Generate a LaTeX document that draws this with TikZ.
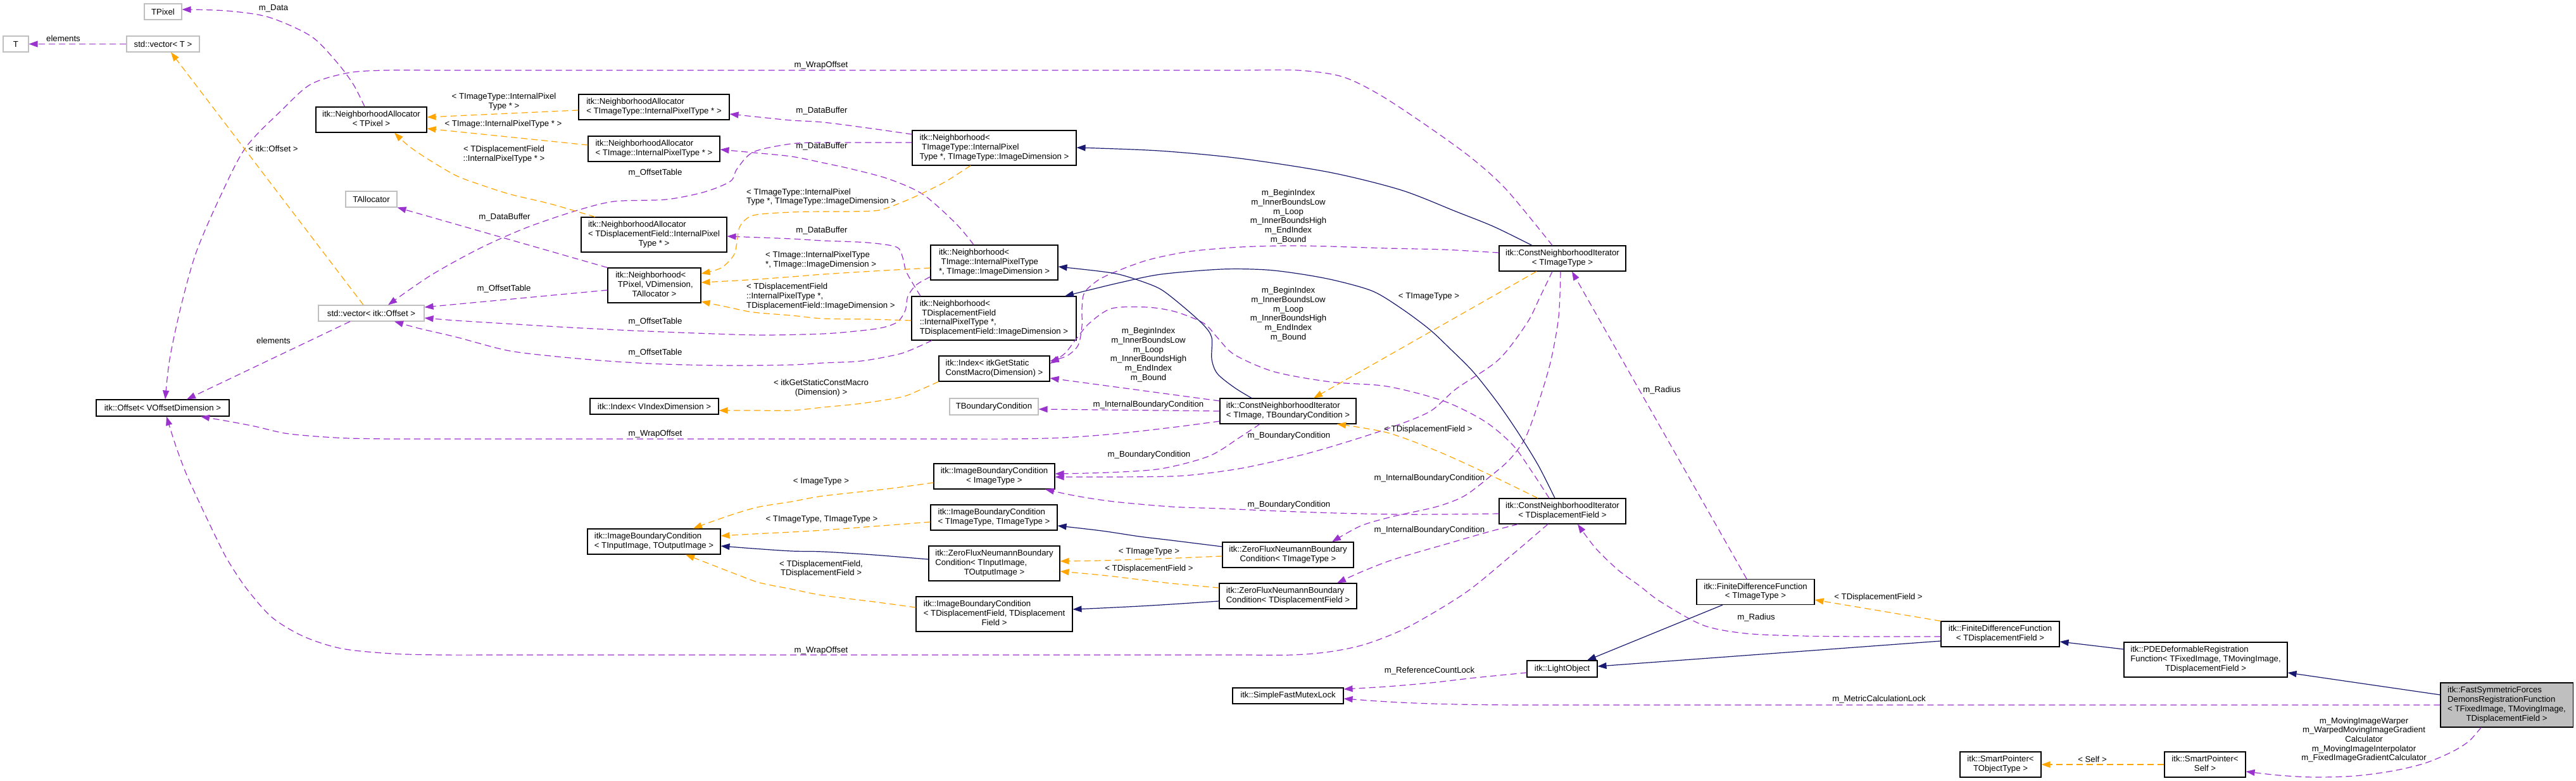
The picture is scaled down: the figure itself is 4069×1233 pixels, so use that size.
\documentclass[tikz,border=0pt]{standalone}
\usepackage{fontspec}
\setmainfont{Liberation Sans}
\usetikzlibrary{arrows.meta}
\definecolor{usec}{HTML}{9A32CD}
\definecolor{tmplc}{HTML}{FFA500}
\definecolor{inhc}{HTML}{191970}
\definecolor{grayb}{HTML}{BFBFBF}
\newcommand\dgfont{\fontsize{13.2}{14.7}\selectfont}
\newcommand\dgml[2]{\begin{tabular}{@{}l@{}}#1\\\multicolumn{1}{@{}c@{}}{#2}\end{tabular}}
\newcommand\dgbidx{m\_BeginIndex\\m\_InnerBoundsLow\\m\_Loop\\m\_InnerBoundsHigh\\m\_EndIndex\\m\_Bound}
\tikzset{
  dgbox/.style={rectangle, draw=black, line width=1.1pt, fill=white, inner sep=0pt, font=\dgfont},
  dggbox/.style={dgbox, draw=grayb},
  dglab/.style={inner sep=0pt, font=\dgfont, align=center},
  dgtip/.style={-{Triangle[length=14pt,width=10pt]}},
  dgusage/.style={draw=usec, line width=1.2pt, dash pattern=on 10pt off 6pt, dgtip},
  dgtmpl/.style={draw=tmplc, line width=1.2pt, dash pattern=on 10pt off 6pt, dgtip},
  dginh/.style={draw=inhc, line width=1.2pt, dgtip},
}
\begin{document}
\begin{tikzpicture}[x=1pt,y=-1pt]
\useasboundingbox (0,0) rectangle (4069,1233);
\fill[white] (0,0) rectangle (4069,1233);

% ---------------- nodes
\node[dggbox, minimum width=59, minimum height=25] (TPixel) at (257.5,18.5) {TPixel};
\node[dggbox, minimum width=40, minimum height=25] (T) at (25,69.5) {T};
\node[dggbox, minimum width=115, minimum height=25] (vecT) at (257.5,69.5) {std::vector< T >};
\node[dgbox, minimum width=175, minimum height=40] (NATPixel) at (586.5,189) {\dgml{itk::NeighborhoodAllocator}{< TPixel >}};
\node[dggbox, minimum width=81, minimum height=25] (TAllocator) at (586.5,314.5) {TAllocator};
\node[dggbox, minimum width=167, minimum height=25] (vecOffset) at (586.5,494.5) {std::vector< itk::Offset >};
\node[dgbox, minimum width=210, minimum height=26] (Offset) at (257,644) {itk::Offset< VOffsetDimension >};
\node[dgbox, minimum width=238, minimum height=40] (NATImageType) at (1033,169) {\dgml{itk::NeighborhoodAllocator}{< TImageType::InternalPixelType * >}};
\node[dgbox, minimum width=208, minimum height=40] (NATImage) at (1033,235) {\dgml{itk::NeighborhoodAllocator}{< TImage::InternalPixelType * >}};
\node[dgbox, minimum width=230, minimum height=55] (NATDF) at (1033,370.5) {\dgml{itk::NeighborhoodAllocator\\< TDisplacementField::InternalPixel}{Type * >}};
\node[dgbox, minimum width=147, minimum height=55] (NbhTPixel) at (1033.5,450.5) {\dgml{itk::Neighborhood<\\\ TPixel, VDimension,}{TAllocator >}};
\node[dgbox, minimum width=203, minimum height=25] (IndexV) at (1033.5,641.5) {itk::Index< VIndexDimension >};
\node[dgbox, minimum width=210, minimum height=40] (IBCTIn) at (1033,855) {\dgml{itk::ImageBoundaryCondition}{< TInputImage, TOutputImage >}};
\node[dgbox, minimum width=259, minimum height=55] (NbhTImageType) at (1570.5,233.5) {\dgml{itk::Neighborhood<\\\ TImageType::InternalPixel}{Type *, TImageType::ImageDimension >}};
\node[dgbox, minimum width=201, minimum height=55] (NbhTImage) at (1570.5,414.5) {\dgml{itk::Neighborhood<\\\ TImage::InternalPixelType}{*, TImage::ImageDimension >}};
\node[dgbox, minimum width=260, minimum height=69] (NbhTDF) at (1570,502.5) {\dgml{itk::Neighborhood<\\\ TDisplacementField\\::InternalPixelType *,}{TDisplacementField::ImageDimension >}};
\node[dgbox, minimum width=175, minimum height=40] (IndexStatic) at (1570.5,582) {\dgml{itk::Index< itkGetStatic}{ConstMacro(Dimension) >}};
\node[dggbox, minimum width=140, minimum height=26] (TBC) at (1570,642) {TBoundaryCondition};
\node[dgbox, minimum width=191, minimum height=40] (IBCImageType) at (1570.5,752) {\dgml{itk::ImageBoundaryCondition}{< ImageType >}};
\node[dgbox, minimum width=200, minimum height=40] (IBCTImageType) at (1570,817) {\dgml{itk::ImageBoundaryCondition}{< TImageType, TImageType >}};
\node[dgbox, minimum width=207, minimum height=55] (ZFTIn) at (1570.5,889.5) {\dgml{itk::ZeroFluxNeumannBoundary\\Condition< TInputImage,}{TOutputImage >}};
\node[dgbox, minimum width=247, minimum height=55] (IBCTDF) at (1570.5,969.5) {\dgml{itk::ImageBoundaryCondition\\< TDisplacementField, TDisplacement}{Field >}};
\node[dgbox, minimum width=215, minimum height=40] (CNITImageTBC) at (2034.5,649) {\dgml{itk::ConstNeighborhoodIterator}{< TImage, TBoundaryCondition >}};
\node[dgbox, minimum width=207, minimum height=40] (ZFTImageType) at (2034.5,876) {\dgml{itk::ZeroFluxNeumannBoundary}{Condition< TImageType >}};
\node[dgbox, minimum width=217, minimum height=40] (ZFTDF) at (2034.5,941) {\dgml{itk::ZeroFluxNeumannBoundary}{Condition< TDisplacementField >}};
\node[dgbox, minimum width=175, minimum height=25] (SFML) at (2034.5,1098.5) {itk::SimpleFastMutexLock};
\node[dgbox, minimum width=200, minimum height=40] (CNITImageType) at (2468,408) {\dgml{itk::ConstNeighborhoodIterator}{< TImageType >}};
\node[dgbox, minimum width=200, minimum height=40] (CNITDF) at (2468,807) {\dgml{itk::ConstNeighborhoodIterator}{< TDisplacementField >}};
\node[dgbox, minimum width=111, minimum height=26] (LightObject) at (2467.5,1056) {itk::LightObject};
\node[dgbox, minimum width=186, minimum height=40] (FDTImageType) at (2773,934.5) {\dgml{itk::FiniteDifferenceFunction}{< TImageType >}};
\node[dgbox, minimum width=187, minimum height=40] (FDTDF) at (3159.5,1001) {\dgml{itk::FiniteDifferenceFunction}{< TDisplacementField >}};
\node[dgbox, minimum width=258, minimum height=55] (PDE) at (3484,1041.5) {\dgml{itk::PDEDeformableRegistration\\Function< TFixedImage, TMovingImage,}{TDisplacementField >}};
\node[dgbox, fill=grayb, minimum width=209, minimum height=70] (Fast) at (3959.5,1113) {\dgml{itk::FastSymmetricForces\\DemonsRegistrationFunction\\< TFixedImage, TMovingImage,}{TDisplacementField >}};
\node[dgbox, minimum width=128, minimum height=40] (SPTObjectType) at (3160,1207) {\dgml{itk::SmartPointer<}{TObjectType >}};
\node[dgbox, minimum width=128, minimum height=40] (SPSelf) at (3483,1207) {\dgml{itk::SmartPointer<}{Self >}};

% ---------------- usage edges (purple dashed)
\draw[dgusage] (vecT.west) -- (T.east);
\draw[dgusage] plot[smooth] coordinates {(NATPixel.north -| 576,0) (558,133) (531,97) (491,57) (424,27) (357,17) (TPixel.east |- 0,15)};
\draw[dgusage] (vecOffset.south -| 553,0) -- (Offset.north -| 295,0);
\draw[dgusage] plot[smooth] coordinates {(CNITImageType.north -| 2452,0) (2380,300) (2325,250) (2256,200) (2180,150) (2120,121) (2050,111) (1950,111) (1825,111) (1700,111) (1575,111) (1450,111) (1325,111) (1200,111) (1075,111) (950,111) (825,111) (700,111) (610,111) (550,115) (491,133) (446,173) (388,233) (348,310) (310,398) (286,483) (268,567) (Offset.north -| 261,0)};
\draw[dgusage] plot[smooth] coordinates {(CNITImageTBC.west |- 0,665) (1850,675) (1760,685) (1680,691) (1600,693) (1500,693) (1400,693) (1300,693) (1200,693) (1100,693) (1000,693) (900,693) (800,693) (700,693) (620,693) (552,692) (500,689) (450,684) (402,673) (360,665) (Offset.south -| 317,0)};
\draw[dgusage] plot[smooth] coordinates {(CNITDF.south -| 2445,0) (2380,883) (2313,937) (2224,990) (2157,1017) (2100,1029) (2040,1034) (1960,1034) (1870,1034) (1780,1034) (1690,1034) (1600,1034) (1510,1034) (1420,1034) (1330,1034) (1240,1034) (1150,1034) (1060,1034) (970,1034) (880,1034) (790,1034) (700,1034) (620,1032) (540,1024) (480,1005) (430,975) (390,930) (360,885) (341,848) (318,800) (295,750) (278,705) (Offset.south -| 263,0)};
\draw[dgusage] (NbhTPixel.north west) -- (TAllocator.south east);
\draw[dgusage] (NbhTPixel.west |- 0,458) -- (vecOffset.east |- 0,485);
\draw[dgusage] plot[smooth] coordinates {(NbhTImageType.west |- 0,225) (1370,225) (1300,225) (1250,227) (1190,240) (1164,267) (1154,286) (1113,303) (1052,315) (970,318) (909,333) (830,360) (756,393) (680,435) (vecOffset.north -| 613,0)};
\draw[dgusage] plot[smooth] coordinates {(NbhTImage.west |- 0,437) (1447,450) (1434,468) (1430,490) (1418,508) (1395,517) (1360,522) (1300,527) (1200,529) (1100,526) (1000,522) (900,517) (800,511) (720,506) (vecOffset.east |- 0,502)};
\draw[dgusage] plot[smooth] coordinates {(NbhTDF.south -| 1472,0) (1440,552) (1416,560) (1360,570) (1300,573) (1250,576) (1150,577) (1050,575) (960,570) (870,562) (800,553) (720,532) (660,518) (vecOffset.south -| 623,0)};
\draw[dgusage] plot[smooth] coordinates {(NbhTImageType.west |- 0,212) (1370,202) (1300,193) (1250,190) (1200,185) (NATImageType.east |- 0,180)};
\draw[dgusage] plot[smooth] coordinates {(NbhTImage.north -| 1538,0) (1510,353) (1458,307) (1405,283) (1350,268) (1300,257) (1250,247) (1190,241) (NATImage.east |- 0,236)};
\draw[dgusage] plot[smooth] coordinates {(NbhTDF.north -| 1454,0) (1432,430) (1426,407) (1416,390) (1370,383) (1300,380) (1250,377) (1200,375) (NATDF.east |- 0,373)};
\draw[dgusage] (CNITImageTBC.west |- 0,633) -- (IndexStatic.east |- 0,597);
\draw[dgusage] plot[smooth] coordinates {(CNITImageType.west |- 0,399) (2280,394) (2191,392) (2100,389) (2035,388) (1960,390) (1879,397) (1815,410) (1767,427) (1735,442) (1713,462) (1709,487) (1709,515) (1703,545) (1685,562) (IndexStatic.east |- 0,570)};
\draw[dgusage] plot[smooth] coordinates {(CNITDF.north -| 2447,0) (2420,745) (2389,702) (2345,665) (2280,633) (2191,610) (2102,603) (2013,587) (1950,560) (1923,533) (1901,510) (1856,492) (1812,485) (1756,487) (1721,510) (1700,535) (1682,558) (IndexStatic.east |- 0,574)};
\draw[dgusage] (CNITImageTBC.west |- 0,649) -- (TBC.east |- 0,646);
\draw[dgusage] plot[smooth] coordinates {(CNITImageTBC.south -| 1990,0) (1959,690) (1910,720) (1834,740) (1750,746) (IBCImageType.east |- 0,748)};
\draw[dgusage] plot[smooth] coordinates {(CNITImageType.south -| 2452,0) (2432,470) (2412,510) (2367,568) (2300,614) (2258,650) (2191,677) (2120,700) (2057,718) (1968,738) (1900,748) (1850,752) (1760,753) (IBCImageType.east |- 0,753)};
\draw[dgusage] plot[smooth] coordinates {(CNITDF.west |- 0,811) (2280,812) (2202,812) (2110,810) (2023,807) (1930,803) (1850,800) (1760,792) (1700,783) (IBCImageType.south -| 1651,0)};
\draw[dgusage] plot[smooth] coordinates {(CNITImageType.south -| 2465,0) (2462,500) (2450,568) (2432,630) (2410,690) (2385,725) (2354,752) (2313,783) (2269,800) (2202,815) (2150,830) (ZFTImageType.north -| 2104,0)};
\draw[dgusage] plot[smooth] coordinates {(CNITDF.south -| 2398,0) (2350,840) (2291,857) (2202,883) (2150,903) (ZFTDF.north -| 2112,0)};
\draw[dgusage] (FDTImageType.north -| 2759,0) -- (CNITImageType.south -| 2483,0);
\draw[dgusage] plot[smooth] coordinates {(FDTDF.west |- 0,1005) (2950,1005) (2846,1004) (2757,1000) (2690,987) (2623,950) (2590,925) (2556,900) (2520,865) (CNITDF.south -| 2492,0)};
\draw[dgusage] plot[smooth] coordinates {(LightObject.west |- 0,1062) (2330,1070) (2260,1078) (2190,1084) (SFML.east |- 0,1088)};
\draw[dgusage] (Fast.west |- 0,1113) -- (2420,1113) .. controls (2250,1113) and (2190,1108) .. (SFML.east |- 0,1103);
\draw[dgusage] plot[smooth] coordinates {(Fast.south -| 3919,0) (3900,1170) (3873,1187) (3830,1205) (3780,1217) (3720,1225) (3656,1227) (3600,1224) (SPSelf.east |- 0,1218)};

% ---------------- template edges (orange dashed)
\draw[dgtmpl] (vecOffset.north -| 574,0) -- (vecT.south -| 270,0);
\draw[dgtmpl] (NATImageType.west |- 0,174) -- (NATPixel.east |- 0,185);
\draw[dgtmpl] (NATImage.west |- 0,229) -- (NATPixel.east |- 0,203);
\draw[dgtmpl] plot[smooth] coordinates {(NATDF.north -| 940,0) (870,322) (807,307) (760,292) (720,277) (674,250) (645,230) (NATPixel.south -| 623,0)};
\draw[dgtmpl] plot[smooth] coordinates {(NbhTImageType.south -| 1533,0) (1493,287) (1455,306) (1423,320) (1388,332) (1340,334) (1300,334) (1250,335) (1190,340) (1169,357) (1164,383) (1159,403) (1139,423) (NbhTPixel.east |- 0,432)};
\draw[dgtmpl] plot[smooth] coordinates {(NbhTImage.west |- 0,423) (1380,428) (1300,433) (1250,437) (1180,442) (NbhTPixel.east |- 0,446)};
\draw[dgtmpl] plot[smooth] coordinates {(NbhTDF.west |- 0,506) (1370,504) (1300,503) (1250,498) (1190,493) (1150,485) (NbhTPixel.east |- 0,476)};
\draw[dgtmpl] plot[smooth] coordinates {(IndexStatic.south west) (1450,617) (1423,627) (1360,637) (1300,643) (1250,648) (1190,648) (IndexV.east |- 0,648)};
\draw[dgtmpl] plot[smooth] coordinates {(IBCImageType.west |- 0,762) (1400,772) (1300,783) (1250,792) (1200,800) (1164,810) (1120,825) (IBCTIn.north -| 1095,0)};
\draw[dgtmpl] plot[smooth] coordinates {(IBCTImageType.west |- 0,824) (1380,831) (1300,837) (1250,840) (1190,843) (IBCTIn.east |- 0,846)};
\draw[dgtmpl] plot[smooth] coordinates {(IBCTDF.west |- 0,959) (1380,950) (1300,940) (1250,930) (1200,920) (1164,907) (1120,890) (IBCTIn.south -| 1083,0)};
\draw[dgtmpl] plot[smooth] coordinates {(ZFTImageType.west |- 0,878) (1860,881) (1800,883) (1740,885) (ZFTIn.east |- 0,886)};
\draw[dgtmpl] plot[smooth] coordinates {(ZFTDF.west |- 0,928) (1850,921) (1800,915) (1740,908) (ZFTIn.east |- 0,902)};
\draw[dgtmpl] (CNITImageType.south -| 2427,0) -- (CNITImageTBC.north -| 2075,0);
\draw[dgtmpl] plot[smooth] coordinates {(CNITDF.north -| 2429,0) (2354,750) (2270,712) (2191,683) (CNITImageTBC.south -| 2112,0)};
\draw[dgtmpl] (FDTDF.north west) -- (FDTImageType.east |- 0,947);
\draw[dgtmpl] (SPSelf.west) -- (SPTObjectType.east);

% ---------------- inheritance edges (blue solid)
\draw[dginh] plot[smooth] coordinates {(CNITImageType.north -| 2420,0) (2360,358) (2300,334) (2213,300) (2100,272) (1958,250) (1830,238) (NbhTImageType.east |- 0,233)};
\draw[dginh] plot[smooth] coordinates {(CNITImageTBC.north -| 1977,0) (1950,612) (1923,590) (1914,567) (1914,533) (1901,513) (1870,485) (1834,457) (1800,443) (1767,433) (1735,428) (NbhTImage.east |- 0,421)};
\draw[dginh] plot[smooth] coordinates {(CNITDF.north -| 2456,0) (2430,735) (2398,683) (2365,635) (2327,587) (2290,550) (2258,520) (2215,488) (2169,460) (2110,443) (2057,433) (2000,426) (1930,425) (1834,433) (1770,446) (1720,458) (NbhTDF.north -| 1682,0)};
\draw[dginh] plot[smooth] coordinates {(ZFTIn.west |- 0,883) (1380,876) (1300,871) (1250,870) (1190,866) (IBCTIn.east |- 0,862)};
\draw[dginh] plot[smooth] coordinates {(ZFTImageType.west |- 0,863) (1850,853) (1800,847) (1740,838) (IBCTImageType.east |- 0,830)};
\draw[dginh] plot[smooth] coordinates {(ZFTDF.west |- 0,949) (1850,954) (1800,957) (1740,960) (IBCTDF.east |- 0,962)};
\draw[dginh] (FDTImageType.south -| 2721,0) -- (LightObject.north -| 2507,0);
\draw[dginh] (FDTDF.west |- 0,1012) -- (LightObject.east |- 0,1052);
\draw[dginh] (PDE.west |- 0,1025) -- (FDTDF.east |- 0,1013);
\draw[dginh] (Fast.west |- 0,1097) -- (PDE.east |- 0,1062);

% ---------------- edge labels
\node[dglab] (l1) at (100,61) {elements};
\node[dglab] (l2) at (432,13) {m\_Data};
\node[dglab] (l3) at (431.5,235) {< itk::Offset >};
\node[dglab] (l4) at (432,538) {elements};
\node[dglab] (l5) at (1297,103) {m\_WrapOffset};
\node[dglab] (l6) at (1035,685) {m\_WrapOffset};
\node[dglab] (l7) at (1297,1027) {m\_WrapOffset};
\node[dglab] (l8) at (797,343) {m\_DataBuffer};
\node[dglab] (l9) at (796,456) {m\_OffsetTable};
\node[dglab] (l10) at (1035,273) {m\_OffsetTable};
\node[dglab] (l11) at (1035,508) {m\_OffsetTable};
\node[dglab] (l12) at (1035,557) {m\_OffsetTable};
\node[dglab] (l13) at (796,160.5) {< TImageType::InternalPixel\\Type * >};
\node[dglab] (l14) at (795,196) {< TImage::InternalPixelType * >};
\node[dglab] (l15) at (796,243.5) {< TDisplacementField\\::InternalPixelType * >};
\node[dglab] (l16) at (1298,175) {m\_DataBuffer};
\node[dglab] (l17) at (1298,231) {m\_DataBuffer};
\node[dglab] (l18) at (1298,364) {m\_DataBuffer};
\node[dglab, align=left, anchor=west] (l19) at (1179,311) {< TImageType::InternalPixel\\Type *, TImageType::ImageDimension >};
\node[dglab, align=left, anchor=west] (l20) at (1209,410.5) {< TImage::InternalPixelType\\*, TImage::ImageDimension >};
\node[dglab, align=left, anchor=west] (l21) at (1179,468) {< TDisplacementField\\::InternalPixelType *,\\TDisplacementField::ImageDimension >};
\node[dglab] (l22) at (1297,612.5) {< itkGetStaticConstMacro\\(Dimension) >};
\node[dglab] (l23) at (1297,760) {< ImageType >};
\node[dglab] (l24) at (1298,820) {< TImageType, TImageType >};
\node[dglab] (l25) at (1297,898) {< TDisplacementField,\\TDisplacementField >};
\node[dglab] (l26) at (2035,342) {\dgbidx};
\node[dglab] (l27) at (2035,496) {\dgbidx};
\node[dglab] (l28) at (1814,560) {\dgbidx};
\node[dglab] (l29) at (1814,639) {m\_InternalBoundaryCondition};
\node[dglab] (l30) at (1815,718) {m\_BoundaryCondition};
\node[dglab] (l31) at (2036,688) {m\_BoundaryCondition};
\node[dglab] (l32) at (2036,797) {m\_BoundaryCondition};
\node[dglab] (l33) at (2257,468) {< TImageType >};
\node[dglab] (l34) at (2256,678) {< TDisplacementField >};
\node[dglab] (l35) at (2258,755) {m\_InternalBoundaryCondition};
\node[dglab] (l36) at (2258,837) {m\_InternalBoundaryCondition};
\node[dglab] (l37) at (1815,871) {< TImageType >};
\node[dglab] (l38) at (1815,898) {< TDisplacementField >};
\node[dglab] (l39) at (2625,616) {m\_Radius};
\node[dglab] (l40) at (2774,975) {m\_Radius};
\node[dglab] (l41) at (2967,943) {< TDisplacementField >};
\node[dglab] (l42) at (2258,1059) {m\_ReferenceCountLock};
\node[dglab] (l43) at (2968,1104) {m\_MetricCalculationLock};
\node[dglab] (l44) at (3305,1199) {< Self >};
\node[dglab] (l45) at (3734,1168) {m\_MovingImageWarper\\m\_WarpedMovingImageGradient\\Calculator\\m\_MovingImageInterpolator\\m\_FixedImageGradientCalculator};
\end{tikzpicture}
\end{document}
